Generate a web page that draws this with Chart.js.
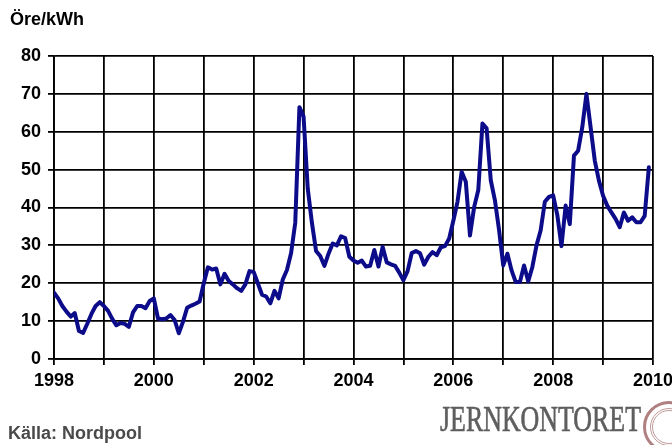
<!DOCTYPE html>
<html>
<head>
<meta charset="utf-8">
<script src="https://cdn.jsdelivr.net/npm/chart.js@4.4.0/dist/chart.umd.min.js"></script>
<style>
  body { margin: 0; background: #fff; }
  #wrap { position: relative; width: 672px; height: 445px; overflow: hidden; }
  canvas { position: absolute; left: 0; top: 0; }
  .txt { position: absolute; font-family: "Liberation Sans", Arial, sans-serif; font-weight: bold; white-space: nowrap; }
  #unit { left: 10px; top: 9px; font-size: 18px; color: #000; }
  #source { left: 8px; top: 423px; font-size: 18px; color: #4a4a4a; }
  #logo { left: 440px; top: 400px; font-family: "Liberation Serif", "DejaVu Serif", serif; font-weight: normal;
          font-size: 35px; color: #5e5e5e; transform: scaleX(0.74); transform-origin: left top;
          -webkit-text-stroke: 0.6px #5e5e5e; }
  #seal { position: absolute; left: 643px; top: 401px; width: 52px; height: 52px; border-radius: 50%;
          border: 3px solid #b08080; box-sizing: border-box; }
  #seal2 { position: absolute; left: 650px; top: 408px; width: 38px; height: 38px; border-radius: 50%;
           border: 3px double #c09a9a; box-sizing: border-box; }
</style>
</head>
<body>
<div id="wrap">
  <canvas id="chart" width="672" height="445"></canvas>
  <div id="unit" class="txt">Öre/kWh</div>
  <div id="source" class="txt">Källa: Nordpool</div>
  <div id="logo" class="txt">JERNKONTORET</div>
  <div id="seal"></div>
  <div id="seal2"></div>
</div>
<script>
// monthly spot price, öre/kWh, Jan..Dec of each year
const years = [1998, 1999, 2000, 2001, 2002, 2003, 2004, 2005, 2006, 2007, 2008, 2009];
const p1998 = [17.5, 16, 14, 12.5, 11.2, 12.1, 7.4, 6.9, 9.3, 11.9, 14, 15];
const p1999 = [14, 12.7, 10.6, 8.9, 9.5, 9.3, 8.5, 12.3, 14, 14, 13.4, 15.3];
const p2000 = [16, 10.7, 10.5, 10.7, 11.6, 10.3, 6.8, 9.8, 13.5, 14.1, 14.6, 15.2];
const p2001 = [20, 24.2, 23.6, 23.9, 19.7, 22.5, 20.6, 19.7, 18.7, 18, 19.7, 23.2];
const p2002 = [23, 20, 17, 16.5, 14.7, 18, 16, 21, 23.5, 28, 36, 66.5];
const p2003 = [64, 45, 36, 28.5, 27.2, 24.6, 27.8, 30.5, 30, 32.4, 31.9, 27];
const p2004 = [26, 25.4, 26, 24.4, 24.6, 28.8, 24.4, 29.6, 25.5, 25, 24.6, 22.8];
const p2005 = [20.8, 23.2, 28, 28.5, 27.9, 24.9, 27, 28.2, 27.4, 29.5, 29.8, 31.8];
const p2006 = [36.5, 41.5, 49.4, 46.8, 32.6, 40.1, 44.6, 62.2, 60.9, 47.2, 41.9, 34];
const p2007 = [24.7, 27.8, 23.4, 20.3, 20.3, 24.7, 20.5, 24.3, 30, 34, 41.5, 42.8];
const p2008 = [43.2, 38, 29.8, 40.5, 35.6, 53.7, 55, 61.2, 70, 61.2, 52.4, 47.1];
const p2009 = [43.1, 40.5, 38.7, 37, 34.8, 38.7, 36.5, 37.4, 36.1, 36.1, 37.8, 50.6];
const xLabels = [1998, 2000, 2002, 2004, 2006, 2008, 2010];
const yTicks = [0, 10, 20, 30, 40, 50, 60, 70, 80];

const perYear = [p1998, p1999, p2000, p2001, p2002, p2003, p2004, p2005, p2006, p2007, p2008, p2009];
const points = [];
years.forEach((y, i) => {
  perYear[i].forEach((v, m) => points.push({ x: y + m / 12, y: v }));
});

const font = { family: '"Liberation Sans", Arial, sans-serif', size: 18, weight: 'bold' };

new Chart(document.getElementById('chart'), {
  type: 'line',
  data: {
    datasets: [{
      data: points,
      borderColor: '#0c0c8a',
      borderWidth: 4,
      pointRadius: 0,
      tension: 0,
      borderJoinStyle: 'round',
      borderCapStyle: 'round'
    }]
  },
  options: {
    responsive: false,
    animation: false,
    events: [],
    layout: { padding: { left: 0, top: 56, right: 19, bottom: 56 } },
    plugins: { legend: { display: false }, tooltip: { enabled: false } },
    scales: {
      x: {
        type: 'linear',
        min: 1998,
        max: 2010,
        afterFit: (s) => { s.height = 30; s.paddingLeft = 0; s.paddingRight = 0; },
        grid: { color: '#000', lineWidth: 1.8, tickLength: 6 },
        border: { color: '#000', width: 1.8 },
        ticks: {
          stepSize: 1,
          autoSkip: false,
          maxRotation: 0,
          padding: 5,
          color: '#000',
          font: font,
          callback: (v) => xLabels.includes(v) ? String(v) : ''
        }
      },
      y: {
        min: 0,
        max: 80,
        afterFit: (s) => { s.width = 54; },
        grid: { color: '#000', lineWidth: 1.8, tickLength: 6 },
        border: { color: '#000', width: 1.8 },
        ticks: {
          stepSize: 10,
          padding: 7,
          color: '#000',
          font: font,
          callback: (v) => yTicks.includes(v) ? String(v) : ''
        }
      }
    }
  }
});
</script>
</body>
</html>
